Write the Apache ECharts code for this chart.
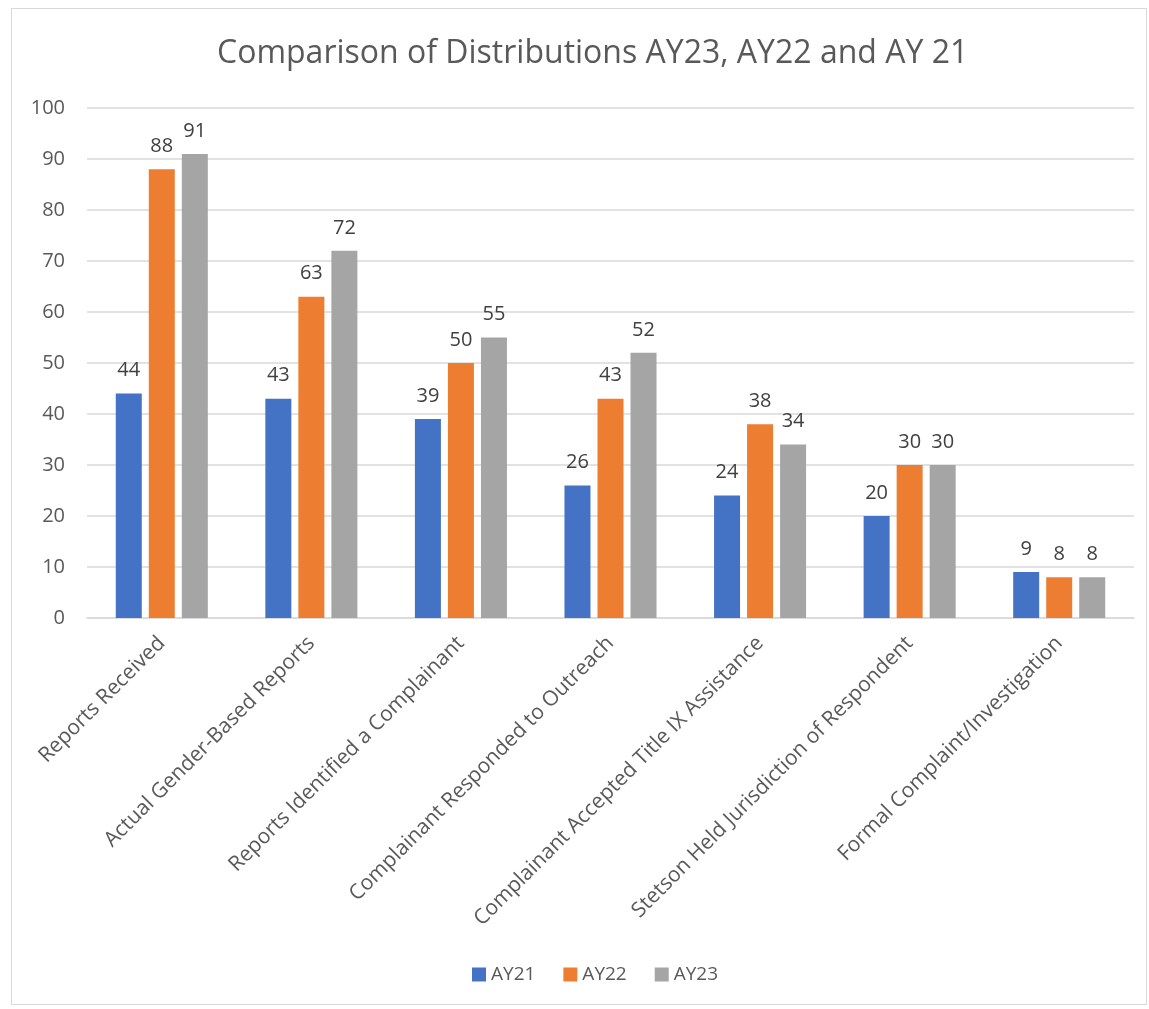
<!DOCTYPE html>
<html><head><meta charset="utf-8">
<script src="https://cdn.jsdelivr.net/npm/echarts@6/dist/echarts.min.js"></script>
<style>html,body{margin:0;padding:0;background:#fff}#wrap{position:absolute;left:11px;top:8px;width:1136px;height:997px;border:1px solid #d9d9d9;box-sizing:border-box}#c{width:1149px;height:1009px;position:absolute;left:0;top:0}</style>
</head><body><div id="wrap"></div><div id="c"></div>
<script>
const categories = ["Reports Received","Actual Gender-Based Reports","Reports Identified a Complainant","Complainant Responded to Outreach","Complainant Accepted Title IX Assistance","Stetson Held Jurisdiction of Respondent","Formal Complaint/Investigation"];
const ay21 = [44,43,39,26,24,20,9];
const ay22 = [88,63,50,43,38,30,8];
const ay23 = [91,72,55,52,34,30,8];
const font = "'Open Sans', 'Liberation Sans', sans-serif";
const chart = echarts.init(document.getElementById('c'));
const lbl = {show:true,position:'top',distance:13,color:'#404040',fontSize:20,fontFamily:font};
chart.setOption({
  animation:false,
  title:{text:'Comparison of Distributions AY23, AY22 and AY 21',left:212,top:33,textStyle:{fontSize:32,fontWeight:'normal',color:'#595959',fontFamily:font}},
  legend:{bottom:20,left:467,itemWidth:14,itemHeight:14,itemGap:28,icon:'rect',textStyle:{fontSize:19,color:'#595959',fontFamily:font},data:['AY21','AY22','AY23']},
  grid:{left:87,right:15,top:108,bottom:391,containLabel:false},
  xAxis:{type:'category',data:categories,axisTick:{show:false},axisLine:{lineStyle:{color:'#d9d9d9',width:1.5}},
    axisLabel:{rotate:45,interval:0,fontSize:21,color:'#595959',fontFamily:font,margin:22}},
  yAxis:{type:'value',min:0,max:100,interval:10,axisLine:{show:false},axisTick:{show:false},
    splitLine:{lineStyle:{color:'#d9d9d9',width:1.5}},axisLabel:{fontSize:20,color:'#595959',fontFamily:font,margin:22}},
  series:[
    {name:'AY21',type:'bar',data:ay21,itemStyle:{color:'#4472c4'},barWidth:26,barGap:'27%',label:lbl},
    {name:'AY22',type:'bar',data:ay22,itemStyle:{color:'#ed7d31'},barWidth:26,barGap:'27%',label:lbl},
    {name:'AY23',type:'bar',data:ay23,itemStyle:{color:'#a5a5a5'},barWidth:26,barGap:'27%',label:lbl}
  ]
});
</script></body></html>
